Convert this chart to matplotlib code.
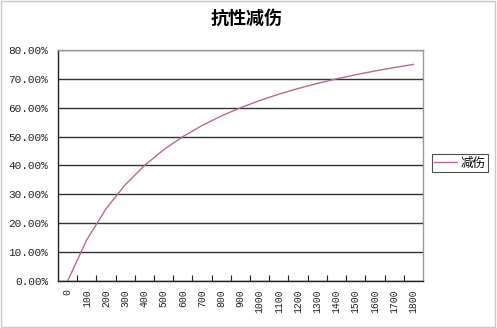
import matplotlib
matplotlib.use("Agg")
import matplotlib.pyplot as plt
from matplotlib.patches import Rectangle

plt.rcParams['font.family'] = ['Noto Sans CJK SC', 'DejaVu Sans']

categories = ["0", "100", "200", "300", "400", "500", "600", "700", "800", "900",
              "1000", "1100", "1200", "1300", "1400", "1500", "1600", "1700", "1800"]
values = [0.0, 14.29, 25.0, 33.33, 40.0, 45.45, 50.0, 53.85, 57.14, 60.0,
          62.5, 64.71, 66.67, 68.42, 70.0, 71.43, 72.73, 73.91, 75.0]
y_ticks = [0, 10, 20, 30, 40, 50, 60, 70, 80]
title = "抗性减伤"
series_name = "减伤"

fig = plt.figure(figsize=(4.97, 3.28), dpi=100)
fig.patch.set_facecolor("white")
fig.add_artist(Rectangle((0.002, 0.003), 0.994, 0.994, transform=fig.transFigure,
                         fill=False, edgecolor="#c8c8c8", lw=1))

ax = fig.add_axes([0.1167, 0.1433, 0.7343, 0.7043])
x = list(range(len(categories)))
line, = ax.plot(x, values, color="#b46a96", lw=1.0)

ax.set_xlim(-0.5, len(categories) - 0.5)
ax.set_ylim(0, 80)
ax.set_yticks(y_ticks)
ax.set_yticklabels([f"{v:.2f}%" for v in y_ticks], fontsize=8, color="#222222",
                   family=["Liberation Mono", "DejaVu Sans"])
ax.yaxis.grid(True, color="#333333", lw=1.0)
ax.set_axisbelow(True)
ax.tick_params(axis="y", length=0, pad=7)

ax.set_xticks(x)
ax.set_xticklabels(categories, rotation=90, fontsize=7, color="#222222",
                   family=["Liberation Mono", "DejaVu Sans"])
ax.tick_params(axis="x", which="major", length=0, pad=6)
ax.set_xticks([i + 0.5 for i in x[:-1]], minor=True)
ax.tick_params(axis="x", which="minor", direction="in", length=4, width=0.8, color="#222222")

for s in ["left", "bottom"]:
    ax.spines[s].set_color("#222222")
    ax.spines[s].set_linewidth(1.0)
for s in ["top", "right"]:
    ax.spines[s].set_color("#9a9a9a")
    ax.spines[s].set_linewidth(1.0)

fig.text(0.497, 0.945, title, ha="center", va="center", fontsize=13, fontweight="bold")

leg = fig.legend([line], [series_name], loc="center", bbox_to_anchor=(0.925, 0.503),
                 fontsize=9, frameon=True, fancybox=False, handlelength=1.8,
                 handletextpad=0.3, borderpad=0.2)
leg.get_frame().set_edgecolor("#222222")
leg.get_frame().set_linewidth(0.8)

fig.savefig("out.png", dpi=100)
